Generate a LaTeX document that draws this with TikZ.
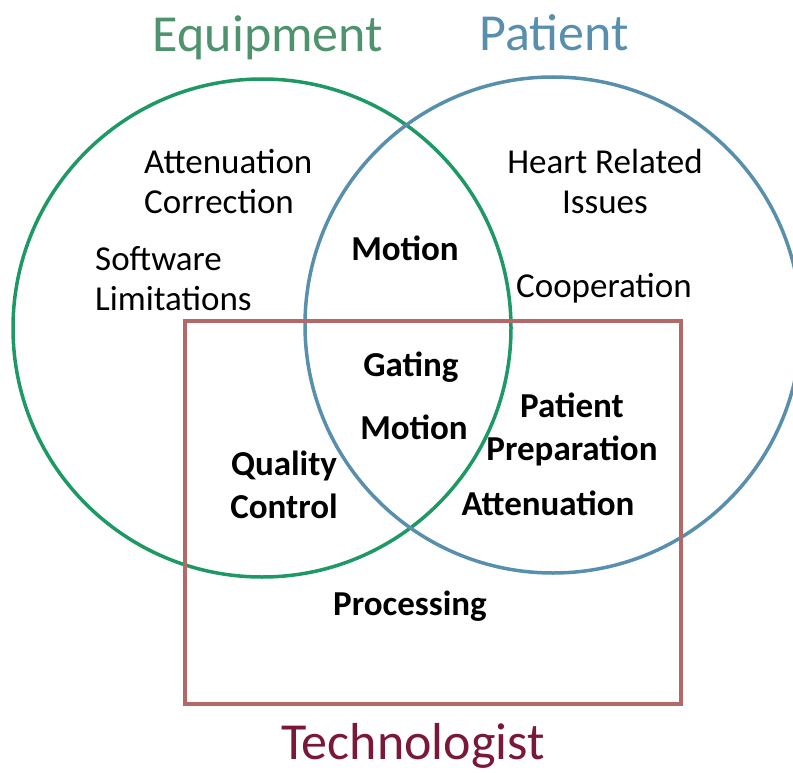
\documentclass[tikz,border=0pt]{standalone}
\usepackage{fontspec}
\setmainfont{Carlito}
\definecolor{equipgreen}{RGB}{30,152,100}
\definecolor{equiptext}{RGB}{78,146,110}
\definecolor{patblue}{RGB}{88,143,172}
\definecolor{techred}{RGB}{180,104,104}
\definecolor{techtext}{RGB}{122,24,58}
\tikzset{
  plain/.style={font=\fontsize{35}{40}\selectfont, align=center, inner sep=0pt},
  heavy/.style={font=\fontsize{35}{43}\selectfont\bfseries, align=center, inner sep=0pt},
  title/.style={font=\fontsize{52}{56}\selectfont, inner sep=0pt},
}
\begin{document}
\begin{tikzpicture}[x=1pt,y=-1pt]
\useasboundingbox (0,0) rectangle (793,773);
\clip (0,0) rectangle (793,773);
\draw[line width=3.5pt, equipgreen] (262,328) circle (249);
\draw[line width=3.5pt, patblue] (553,325) circle (248);
\draw[line width=3.5pt, techred] (185,321) rectangle (681,704);
\node[title, text=equiptext] (equip) at (268,38) {Equipment};
\node[title, text=patblue] (patient) at (554,33) {Patient};
\node[title, text=techtext] (tech) at (413,746) {Technologist};
\node[plain, align=left, anchor=west] (attcorr) at (144,182) {Attenuation\\Correction};
\node[plain, align=left, anchor=west] (software) at (95,279) {Software\\Limitations};
\node[plain] (heart) at (605,181) {Heart Related\\Issues};
\node[plain] (coop) at (604,288) {Cooperation};
\node[heavy] (motiona) at (405,248) {Motion};
\node[heavy] (gating) at (411,367) {Gating};
\node[heavy] (motionb) at (414,427) {Motion};
\node[heavy] (prep) at (572,429) {Patient\\Preparation};
\node[heavy] (atten) at (548,503) {Attenuation};
\node[heavy] (quality) at (284,485) {Quality\\Control};
\node[heavy] (proc) at (410,606) {Processing};
\end{tikzpicture}
\end{document}
